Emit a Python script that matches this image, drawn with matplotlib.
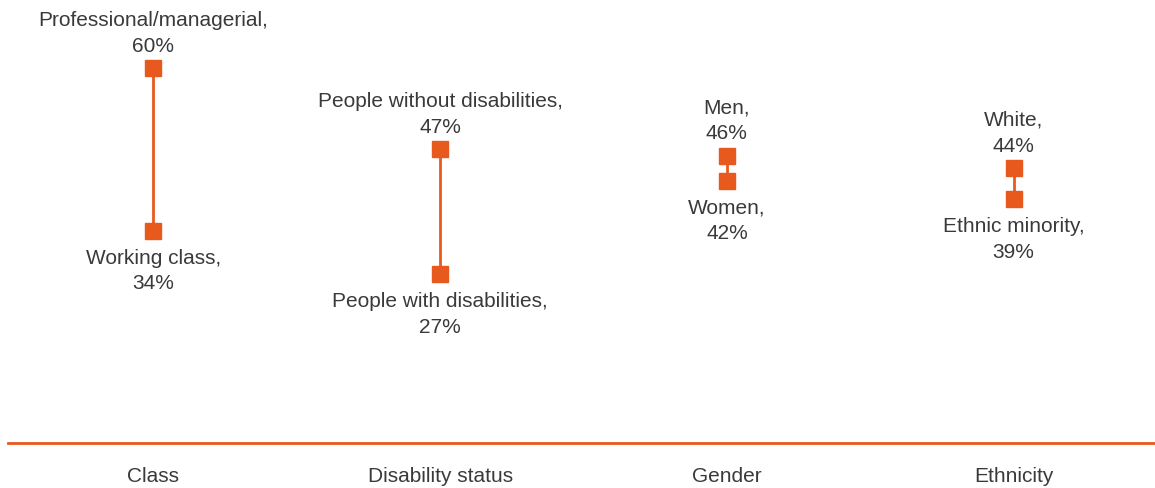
import matplotlib.pyplot as plt

plt.rcParams['font.family'] = ['Liberation Sans', 'DejaVu Sans']

categories = ['Class', 'Disability status', 'Gender', 'Ethnicity']
high_labels = ['Professional/managerial', 'People without disabilities', 'Men', 'White']
high_values = [60, 47, 46, 44]
low_labels = ['Working class', 'People with disabilities', 'Women', 'Ethnic minority']
low_values = [34, 27, 42, 39]

orange = '#E8591E'
text_col = '#3a3a3a'

fig = plt.figure(figsize=(11.55, 4.88), dpi=100)
ax = fig.add_axes([8 / 1155, 45 / 488, 1147 / 1155, 438 / 488])

# categories sit at the middle of four equal slots
xs = [i + 0.5 for i in range(len(categories))]
for x, hl, hv, ll, lv in zip(xs, high_labels, high_values, low_labels, low_values):
    ax.plot([x, x], [lv, hv], color=orange, lw=2, zorder=2)
    ax.plot([x, x], [lv, hv], ls='none', marker='s', ms=12, color=orange, zorder=3)
    ax.annotate(f'{hl},\n{hv}%', (x, hv), xytext=(0, 9), textcoords='offset points',
                ha='center', va='bottom', fontsize=15, color=text_col, linespacing=1.45)
    ax.annotate(f'{ll},\n{lv}%', (x, lv), xytext=(0, -13), textcoords='offset points',
                ha='center', va='top', fontsize=15, color=text_col, linespacing=1.45)

ax.set_xlim(-0.007, 3.993)
ax.set_ylim(0, 438 / 6.25)
ax.set_xticks(xs)
ax.set_xticklabels(categories, fontsize=15, color=text_col)
ax.tick_params(axis='x', length=0, pad=17)
ax.set_yticks([])
for s in ['top', 'left', 'right']:
    ax.spines[s].set_visible(False)
ax.spines['bottom'].set_color(orange)
ax.spines['bottom'].set_linewidth(2)

fig.savefig('out.png', dpi=100)
